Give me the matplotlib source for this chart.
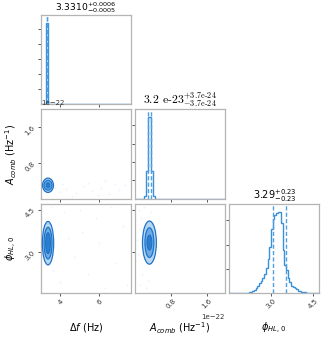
import matplotlib
matplotlib.use("Agg")
import matplotlib.pyplot as plt
from matplotlib.patches import Ellipse
from matplotlib.ticker import FixedLocator

# ---------------- data ----------------
SCALE_A = 1e-22  # A_comb values below are in units of 1e-22 Hz^-1

# axis ranges
DF_RANGE = [3.0, 7.6]
A_RANGE = [0.0, 2.0]
PHI_RANGE = [1.52, 4.71]

# tick positions
DF_TICKS = [4, 6]
A_TICKS = [0.8, 1.6]
PHI_TICKS = [3.0, 4.5]

# titles (median, +err, -err)
TITLE_DF = r"$3.3310^{+0.0006}_{-0.0005}$"
TITLE_A = r"$\text{3.2 e-23}^{\text{+3.7e-24}}_{\text{−3.7e-24}}$"
TITLE_PHI = r"$3.29^{+0.23}_{-0.23}$"

# 1D histograms (heights in units of the diagonal tick spacing)
DF_EDGES = [3.0, 3.28, 3.38, 7.6]
DF_HIST = [0.0, 5.4, 0.0]
DF_QUANT = [3.3305, 3.3316]

A_EDGES = [0.0, 0.20, 0.245, 0.29, 0.355, 0.40, 0.45, 2.0]
A_HIST = [0.0, 0.16, 1.49, 4.43, 1.49, 0.16, 0.0]
A_QUANT = [0.283, 0.357]

PHI_BIN_START = 2.22
PHI_BIN_WIDTH = 0.06
PHI_HIST = [0.03, 0.05, 0.08, 0.13, 0.20, 0.30, 0.41, 0.50, 0.61, 0.80,
            1.02, 1.40, 1.90, 2.65, 3.06, 3.22, 3.31, 3.33, 3.35, 2.90,
            1.76, 1.14, 0.94, 0.60, 0.45, 0.30, 0.24, 0.20, 0.16, 0.10,
            0.08, 0.05, 0.04, 0.03, 0.02]
PHI_QUANT = [3.06, 3.52]

# diagonal peak heights (tick spacing = 1)
DIAG_YMAX = [5.4, 4.43, 3.35]

# 2D contour ellipses: center and full widths (outer, middle, inner)
C_DF_A = dict(center=(3.36, 0.30), w=[0.56, 0.41, 0.18], h=[0.32, 0.22, 0.11])
C_DF_PHI = dict(center=(3.36, 3.30), w=[0.58, 0.41, 0.24], h=[1.55, 1.13, 0.74])
C_A_PHI = dict(center=(0.318, 3.32), w=[0.31, 0.20, 0.104], h=[1.54, 1.06, 0.53])

# faint outlier samples
PTS_DF_A_X = [3.9, 4.3, 4.8, 5.2, 5.6, 6.1, 6.5, 7.0, 7.3, 4.1, 5.9, 6.8, 3.7, 4.6, 5.4, 3.5, 6.3]
PTS_DF_A_Y = [0.15, 0.22, 0.12, 0.28, 0.18, 0.25, 0.10, 0.20, 0.30, 0.32, 0.08, 0.33, 0.25, 0.05, 0.35, 0.40, 0.40]
PTS_DF_PHI_X = [3.5, 4.2, 5.0, 5.8, 6.6, 7.2, 6.0, 4.7, 5.4, 6.8, 4.0, 7.4, 5.1, 6.3, 3.6, 4.4]
PTS_DF_PHI_Y = [4.6, 4.4, 4.5, 4.2, 4.6, 3.9, 3.3, 2.8, 2.2, 2.6, 1.9, 1.8, 3.7, 1.7, 2.3, 3.5]
PTS_A_PHI_X = [0.08, 0.12, 0.20, 0.10, 0.06, 0.15, 0.10, 0.25, 0.35, 0.05, 0.28]
PTS_A_PHI_Y = [4.5, 4.2, 4.6, 3.8, 2.9, 2.2, 1.8, 1.7, 4.4, 3.4, 2.0]

LABELS = [r"$\Delta f$ (Hz)", r"$A_{comb}$ (Hz$^{-1}$)", r"$\phi_{HL,\,0}$"]

# ---------------- style ----------------
LINE_C = "#1f74c8"
HIST_C = "#3a8fd9"
DASH_C = "#4f9fe2"
FILLS = ["#b7d6f2", "#6eaae5", "#2a7fcf"]
SPINE_C = "#b4b4b4"
TICK_FS = 5
LABEL_FS = 7
TITLE_FS = [6.6, 8.5, 7]
TITLE_PAD = [0.3, 1, 1]

fig = plt.figure(figsize=(3.27, 3.38), dpi=100)
axes = fig.subplots(3, 3, gridspec_kw=dict(left=0.1254, right=0.9755, bottom=0.1331,
                                           top=0.9556, wspace=0.05, hspace=0.056))

for (i, j) in [(0, 1), (0, 2), (1, 2)]:
    axes[i, j].set_visible(False)

ranges = [DF_RANGE, [A_RANGE[0] * SCALE_A, A_RANGE[1] * SCALE_A], PHI_RANGE]
ticks = [DF_TICKS, [t * SCALE_A for t in A_TICKS], PHI_TICKS]

for i in range(3):
    for j in range(i + 1):
        ax = axes[i, j]
        for s in ax.spines.values():
            s.set_color(SPINE_C)
            s.set_linewidth(0.9)
        ax.tick_params(direction="out", length=2.5, width=0.7, color="#555555",
                       labelsize=TICK_FS, labelcolor="#333333", pad=1)
        ax.set_xlim(ranges[j])
        ax.xaxis.set_major_locator(FixedLocator(ticks[j]))
        if i != j:
            ax.set_ylim(ranges[i])
            ax.yaxis.set_major_locator(FixedLocator(ticks[i]))
        for lab in ax.get_xticklabels():
            lab.set_rotation(45)
        for lab in ax.get_yticklabels():
            lab.set_rotation(45)
        if i != 2:
            ax.tick_params(labelbottom=False)
            ax.xaxis.offsetText.set_visible(False)
        if j != 0 or i == j:
            ax.tick_params(labelleft=False)
            ax.yaxis.offsetText.set_visible(False)
        ax.xaxis.offsetText.set_fontsize(TICK_FS)
        ax.yaxis.offsetText.set_fontsize(TICK_FS)

# ---------------- diagonals ----------------
phi_edges = [PHI_RANGE[0]] + [PHI_BIN_START + PHI_BIN_WIDTH * k for k in range(len(PHI_HIST) + 1)] + [PHI_RANGE[1]]
phi_vals = [0.0] + PHI_HIST + [0.0]

diag = [
    (DF_EDGES, DF_HIST, DF_QUANT, 1.0, TITLE_DF, "dejavusans"),
    (A_EDGES, A_HIST, A_QUANT, SCALE_A, TITLE_A, "cm"),
    (phi_edges, phi_vals, PHI_QUANT, 1.0, TITLE_PHI, "dejavusans"),
]
for k, (edges, vals, q, sc, title, mf) in enumerate(diag):
    ax = axes[k, k]
    ax.stairs(vals, [e * sc for e in edges], color=HIST_C, lw=1.0, baseline=0)
    for qq in q:
        ax.axvline(qq * sc, color=DASH_C, lw=1.0, ls=(0, (3, 1.6)))
    ax.set_ylim(0, 1.1 * DIAG_YMAX[k])
    ax.set_yticks([t for t in range(1, int(DIAG_YMAX[k] * 1.1) + 1)])
    ax.set_title(title, fontsize=TITLE_FS[k], pad=TITLE_PAD[k], math_fontfamily=mf)

# ---------------- 2D panels ----------------
def draw_2d(ax, c, px, py, sx=1.0, sy=1.0):
    ax.plot([x * sx for x in px], [y * sy for y in py], "s", ms=1.3, mew=0,
            color="#9cc6ee", alpha=0.18)
    cx, cy = c["center"]
    for w, h, fc in zip(c["w"], c["h"], FILLS):
        ax.add_patch(Ellipse((cx * sx, cy * sy), w * sx, h * sy, facecolor=fc,
                             edgecolor=LINE_C, lw=0.9, zorder=3))

draw_2d(axes[1, 0], C_DF_A, PTS_DF_A_X, PTS_DF_A_Y, 1.0, SCALE_A)
draw_2d(axes[2, 0], C_DF_PHI, PTS_DF_PHI_X, PTS_DF_PHI_Y)
draw_2d(axes[2, 1], C_A_PHI, PTS_A_PHI_X, PTS_A_PHI_Y, SCALE_A, 1.0)

# ---------------- labels ----------------
for j in range(3):
    ax = axes[2, j]
    ax.set_xlabel(LABELS[j], fontsize=LABEL_FS)
    ax.xaxis.set_label_coords(0.5, -0.31)
for i in (1, 2):
    ax = axes[i, 0]
    ax.set_ylabel(LABELS[i], fontsize=LABEL_FS)
    ax.yaxis.set_label_coords(-0.25, 0.5)

fig.savefig("out.png", dpi=100)
